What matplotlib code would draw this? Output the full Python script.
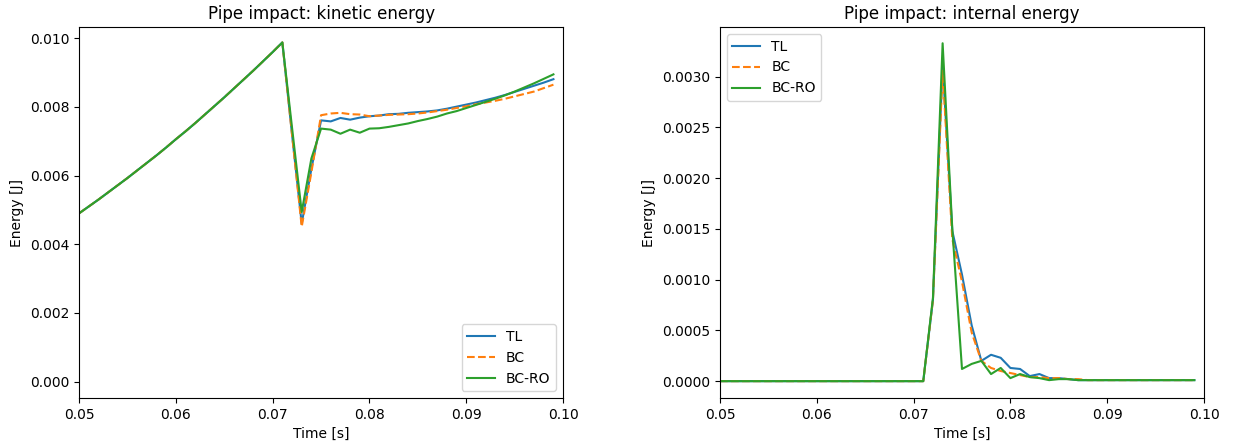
import matplotlib
matplotlib.use("Agg")
import matplotlib.pyplot as plt

# time samples [s]
time = [0.050, 0.051, 0.052, 0.053, 0.054, 0.055, 0.056, 0.057, 0.058, 0.059,
        0.060, 0.061, 0.062, 0.063, 0.064, 0.065, 0.066, 0.067, 0.068, 0.069,
        0.070, 0.071, 0.072, 0.073, 0.074, 0.075, 0.076, 0.077, 0.078, 0.079,
        0.080, 0.081, 0.082, 0.083, 0.084, 0.085, 0.086, 0.087, 0.088, 0.089,
        0.090, 0.091, 0.092, 0.093, 0.094, 0.095, 0.096, 0.097, 0.098, 0.099]

# free fall before contact, identical for every formulation (0.050 .. 0.071)
ke_fall = [0.00490, 0.00510, 0.00530, 0.00551, 0.00572, 0.00593, 0.00615,
           0.00637, 0.00659, 0.00682, 0.00706, 0.00729, 0.00753, 0.00778,
           0.00803, 0.00828, 0.00854, 0.00880, 0.00906, 0.00933, 0.00960,
           0.00988]

# kinetic energy after contact (0.072 .. 0.099)
ke_tl = [0.00720, 0.00460, 0.00620, 0.00761, 0.00758, 0.00768, 0.00763,
         0.00769, 0.00773, 0.00775, 0.00779, 0.00780, 0.00783, 0.00785,
         0.00787, 0.00790, 0.00795, 0.00801, 0.00807, 0.00813, 0.00820,
         0.00827, 0.00835, 0.00844, 0.00853, 0.00862, 0.00871, 0.00881]
ke_bc = [0.00720, 0.00451, 0.00610, 0.00776, 0.00781, 0.00783, 0.00779,
         0.00778, 0.00773, 0.00775, 0.00777, 0.00778, 0.00779, 0.00781,
         0.00784, 0.00788, 0.00792, 0.00797, 0.00802, 0.00808, 0.00813,
         0.00818, 0.00824, 0.00831, 0.00838, 0.00845, 0.00855, 0.00865]
ke_bcro = [0.00740, 0.00494, 0.00650, 0.00737, 0.00734, 0.00722, 0.00734,
           0.00725, 0.00737, 0.00738, 0.00742, 0.00747, 0.00752, 0.00759,
           0.00765, 0.00772, 0.00781, 0.00788, 0.00797, 0.00806, 0.00815,
           0.00824, 0.00834, 0.00845, 0.00857, 0.00869, 0.00882, 0.00895]

ke = {
    "TL": ke_fall + ke_tl,
    "BC": ke_fall + ke_bc,
    "BC-RO": ke_fall + ke_bcro,
}

# internal energy: zero before contact (0.050 .. 0.071)
ie_rest = [0.0] * 22

# internal energy after contact (0.072 .. 0.099)
ie_tl = [0.00080, 0.00312, 0.00148, 0.00105, 0.00055, 0.00020, 0.00026,
         0.00023, 0.00013, 0.00012, 0.00005, 0.00007, 0.00003, 0.00003,
         0.00002, 0.00001, 0.00001, 0.00001, 0.00001, 0.00001, 0.00001,
         0.00001, 0.00001, 0.00001, 0.00001, 0.00001, 0.00001, 0.00001]
ie_bc = [0.00080, 0.00306, 0.00140, 0.00098, 0.00048, 0.00020, 0.00013,
         0.00010, 0.00008, 0.00006, 0.00004, 0.00004, 0.00003, 0.00003,
         0.00002, 0.00002, 0.00001, 0.00001, 0.00001, 0.00001, 0.00001,
         0.00001, 0.00001, 0.00001, 0.00001, 0.00001, 0.00001, 0.00001]
ie_bcro = [0.00082, 0.00333, 0.00150, 0.00012, 0.00017, 0.00020, 0.00007,
           0.00013, 0.00003, 0.00007, 0.00004, 0.00003, 0.00001, 0.00002,
           0.00002, 0.00001, 0.00001, 0.00001, 0.00001, 0.00001, 0.00001,
           0.00001, 0.00001, 0.00001, 0.00001, 0.00001, 0.00001, 0.00001]

ie = {
    "TL": ie_rest + ie_tl,
    "BC": ie_rest + ie_bc,
    "BC-RO": ie_rest + ie_bcro,
}

styles = {"TL": "-", "BC": "--", "BC-RO": "-"}

fig, (ax1, ax2) = plt.subplots(1, 2, figsize=(12.33, 4.48), dpi=100)
fig.subplots_adjust(left=0.0641, right=0.9765, bottom=0.1116, top=0.9397,
                    wspace=0.324)

for name, values in ke.items():
    ax1.plot(time, values, styles[name], label=name)
ax1.set_xlim(0.05, 0.10)
ax1.set_ylim(-0.00048, 0.01033)
ax1.set_title("Pipe impact: kinetic energy")
ax1.set_xlabel("Time [s]")
ax1.set_ylabel("Energy [J]")
ax1.legend(loc="lower right")

for name, values in ie.items():
    ax2.plot(time, values, styles[name], label=name)
ax2.set_xlim(0.05, 0.10)
ax2.set_ylim(-0.000166, 0.00349)
ax2.set_title("Pipe impact: internal energy")
ax2.set_xlabel("Time [s]")
ax2.set_ylabel("Energy [J]")
ax2.legend(loc="upper left")

fig.savefig("out.png", dpi=100)
